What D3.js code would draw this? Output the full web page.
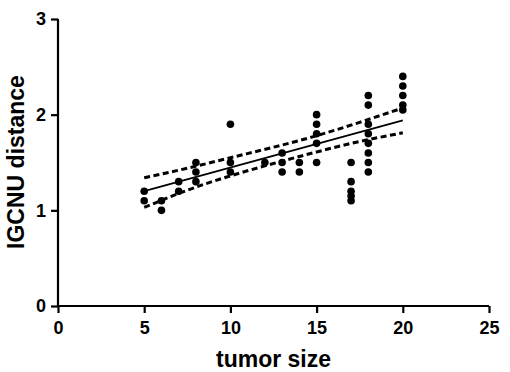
<!DOCTYPE html>
<html>
<head>
<meta charset="utf-8">
<script src="https://cdn.jsdelivr.net/npm/d3@7"></script>
<style>
  body { margin: 0; background: #fff; }
  text { font-family: Arial, "Liberation Sans", sans-serif; font-weight: bold; }
</style>
</head>
<body>
<script>
// scatter points: tumor size vs IGCNU distance
var sizes = [5, 5, 6, 6, 7, 7, 8, 8, 8, 10, 10, 10, 12, 13, 13, 13, 14, 14,
  15, 15, 15, 15, 15, 17, 17, 17, 17, 17,
  18, 18, 18, 18, 18, 18, 18, 18, 20, 20, 20, 20, 20];
var distances = [1.2, 1.1, 1.1, 1.0, 1.3, 1.2, 1.5, 1.4, 1.3, 1.9, 1.5, 1.4, 1.5, 1.6, 1.5, 1.4, 1.5, 1.4,
  2.0, 1.9, 1.8, 1.7, 1.5, 1.5, 1.3, 1.2, 1.15, 1.1,
  2.2, 2.1, 1.9, 1.8, 1.7, 1.6, 1.5, 1.4, 2.4, 2.3, 2.2, 2.1, 2.05];

// regression line + 95% confidence band
var fitX = [5, 20];
var fitY = [1.20, 1.94];
var bandX = [5, 7.5, 10, 12.5, 15, 17.5, 20];
var bandUpper = [1.34, 1.44, 1.55, 1.66, 1.78, 1.92, 2.07];
var bandLower = [1.03, 1.21, 1.36, 1.49, 1.61, 1.72, 1.81];

var xTicks = [0, 5, 10, 15, 20, 25];
var yTicks = [0, 1, 2, 3];

var width = 510, height = 372;

var svg = d3.select("body").append("svg")
  .attr("width", width)
  .attr("height", height);

var x = d3.scaleLinear().domain([0, 25]).range([58, 489]);
var y = d3.scaleLinear().domain([0, 3]).range([306, 19]);

// axes
var xAxis = svg.append("g")
  .attr("transform", "translate(0," + y(0) + ")")
  .call(d3.axisBottom(x).tickValues(xTicks).tickFormat(d3.format("d")).tickSize(7).tickPadding(8));
var yAxis = svg.append("g")
  .attr("transform", "translate(" + x(0) + ",0)")
  .call(d3.axisLeft(y).tickValues(yTicks).tickFormat(d3.format("d")).tickSize(7).tickPadding(5));

[xAxis, yAxis].forEach(function(a) {
  a.attr("font-size", null).attr("font-family", null);
  a.select(".domain").attr("stroke", "#000").attr("stroke-width", 2.2);
  a.selectAll(".tick line").attr("stroke", "#000").attr("stroke-width", 2.2);
  a.selectAll(".tick text").attr("fill", "#000").style("font-size", "18px");
});
// no outer tick stubs at the ends
xAxis.select(".domain").attr("d", "M" + x(0) + ",0H" + x(25));
yAxis.select(".domain").attr("d", "M0," + y(3) + "V" + y(0));

// points
svg.append("g").selectAll("circle")
  .data(sizes)
  .enter().append("circle")
  .attr("cx", function(d) { return x(d); })
  .attr("cy", function(d, i) { return y(distances[i]); })
  .attr("r", 3.8)
  .attr("fill", "#000");

// regression line
var line = d3.line()
  .x(function(d) { return x(d[0]); })
  .y(function(d) { return y(d[1]); });

svg.append("path")
  .attr("d", line(d3.zip(fitX, fitY)))
  .attr("fill", "none")
  .attr("stroke", "#000")
  .attr("stroke-width", 1.8);

var bandLine = d3.line()
  .x(function(d) { return x(d[0]); })
  .y(function(d) { return y(d[1]); })
  .curve(d3.curveNatural);

[bandUpper, bandLower].forEach(function(b) {
  svg.append("path")
    .attr("d", bandLine(d3.zip(bandX, b)))
    .attr("fill", "none")
    .attr("stroke", "#000")
    .attr("stroke-width", 3)
    .attr("stroke-dasharray", "6,3.5");
});

// titles
svg.append("text")
  .attr("x", (x(0) + x(25)) / 2)
  .attr("y", 367)
  .attr("text-anchor", "middle")
  .style("font-size", "23px")
  .text("tumor size");

svg.append("text")
  .attr("transform", "translate(24," + 162 + ") rotate(-90)")
  .attr("text-anchor", "middle")
  .style("font-size", "23px")
  .text("IGCNU distance");
</script>
</body>
</html>
